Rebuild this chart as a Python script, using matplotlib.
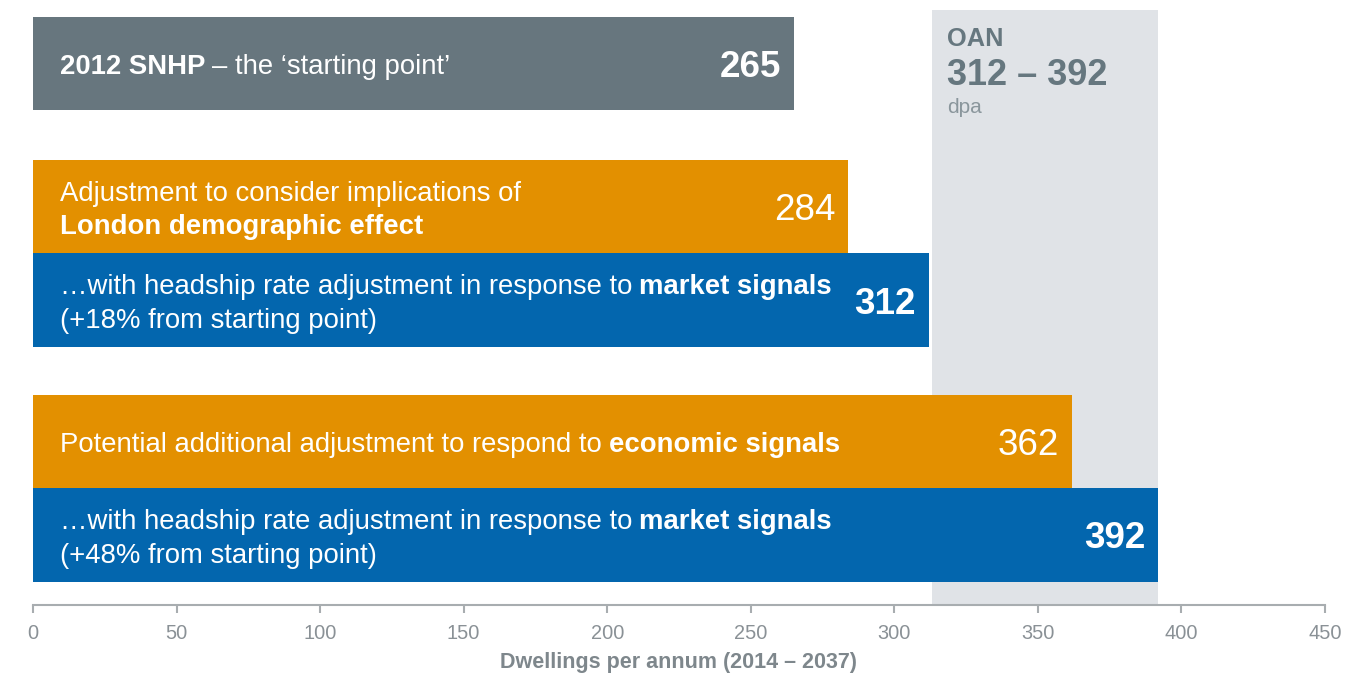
import matplotlib
matplotlib.use('Agg')
import matplotlib.pyplot as plt

plt.rcParams['font.family'] = ['Liberation Sans', 'DejaVu Sans']

# ── Data ─────────────────────────────────────────────────
values      = [265, 284, 312, 362, 392]
value_bold  = [True, False, True, False, True]
bar_colors  = ['#67767e', '#e39000', '#0366ae', '#e39000', '#0366ae']
# each bar: list of lines, each line a list of (text, bold) segments
bar_text = [
    [[('2012 SNHP', True), ('– the ‘starting point’', False)]],
    [[('Adjustment to consider implications of', False)],
     [('London demographic effect', True)]],
    [[('…with headship rate adjustment in response to', False), ('market signals', True)],
     [('(+18% from starting point)', False)]],
    [[('Potential additional adjustment to respond to', False), ('economic signals', True)]],
    [[('…with headship rate adjustment in response to', False), ('market signals', True)],
     [('(+48% from starting point)', False)]],
]
oan_low, oan_high = 312, 392
x_ticks = [0, 50, 100, 150, 200, 250, 300, 350, 400, 450]
x_label = 'Dwellings per annum (2014 – 2037)'

# layout (bar height = 1 unit)
y_pos = [0, 1.53, 2.53, 4.04, 5.04]

fig = plt.figure(figsize=(13.69, 6.77), dpi=100)
ax = fig.add_axes([33 / 1369, 72 / 677, 1292 / 1369, 595 / 677])

ax.axvspan(oan_low + 1, oan_high, color='#e0e3e7', zorder=0, lw=0)
ax.barh(y_pos, values, height=1.0, color=bar_colors, zorder=2, lw=0)

ax.set_xlim(0, 450)
ax.set_ylim(5.79, -0.572)

TEXT_SIZE = 19.8
LINE_GAP = 0.36


def draw_line(y, segments):
    prev = None
    for txt, bold in segments:
        weight = 'bold' if bold else 'normal'
        if prev is None:
            prev = ax.annotate(txt, xy=(0, y), xycoords='data',
                               xytext=(27, -4), textcoords='offset pixels',
                               ha='left', va='center', color='white',
                               fontsize=TEXT_SIZE, fontweight=weight, zorder=3)
        else:
            prev = ax.annotate(txt, xy=(1, 0), xycoords=prev,
                               xytext=(7, 0), textcoords='offset pixels',
                               ha='left', va='bottom', color='white',
                               fontsize=TEXT_SIZE, fontweight=weight, zorder=3)


for y, v, vb, lines in zip(y_pos, values, value_bold, bar_text):
    n = len(lines)
    for i, segs in enumerate(lines):
        draw_line(y + (i - (n - 1) / 2) * LINE_GAP, segs)
    ax.annotate(str(v), xy=(v, y), xytext=(-13, -4), textcoords='offset pixels',
                ha='right', va='center', color='white', fontsize=26.5,
                fontweight='bold' if vb else 'normal', zorder=3)

# OAN box text
oan_color = '#66777f'
ax.annotate('OAN', xy=(oan_low, -0.572), xytext=(18, -17), textcoords='offset pixels',
            ha='left', va='top', color=oan_color, fontsize=18.3, fontweight='bold')
ax.annotate(f'{oan_low} – {oan_high}', xy=(oan_low, -0.572), xytext=(18, -48),
            textcoords='offset pixels', ha='left', va='top', color=oan_color,
            fontsize=26, fontweight='bold')
ax.annotate('dpa', xy=(oan_low, -0.572), xytext=(18, -88), textcoords='offset pixels',
            ha='left', va='top', color='#8a969c', fontsize=15)

# axes styling
for s in ['top', 'right', 'left']:
    ax.spines[s].set_visible(False)
ax.spines['bottom'].set_color('#a8adb0')
ax.spines['bottom'].set_linewidth(1.5)
ax.set_yticks([])
ax.set_xticks(x_ticks)
ax.tick_params(axis='x', colors='#a8adb0', length=6, width=1.5, pad=8,
               labelsize=14.4, labelcolor='#8a9196')
ax.set_xlabel(x_label, fontsize=15.5, fontweight='bold', color='#7e878c', labelpad=6)

plt.savefig('out.png', dpi=100)
